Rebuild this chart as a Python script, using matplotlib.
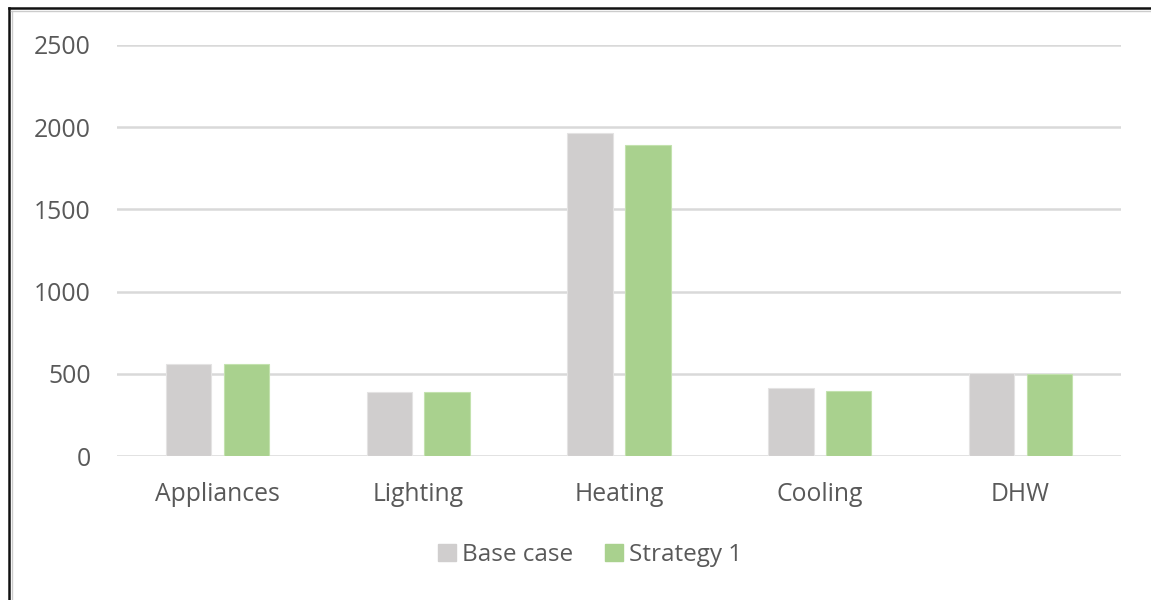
import matplotlib
matplotlib.use("Agg")
import matplotlib.pyplot as plt
import numpy as np
from matplotlib.lines import Line2D
from matplotlib.patches import Patch

categories = ["Appliances", "Lighting", "Heating", "Cooling", "DHW"]
base_case = [562, 387, 1967, 414, 503]
strategy_1 = [562, 387, 1893, 396, 498]
series_names = ["Base case", "Strategy 1"]
yticks = [0, 500, 1000, 1500, 2000, 2500]

c_base = "#D0CECE"
c_strat = "#A9D18E"
txt = "#595959"

plt.rcParams["font.family"] = ["Open Sans", "DejaVu Sans"]
fig = plt.figure(figsize=(11.51, 6.0), dpi=100)
ax = fig.add_axes([117/1151, 0.24, (1121-117)/1151, 0.925-0.24])

x = np.arange(len(categories))
w = 0.226
off = 0.1435
ax.bar(x - off, base_case, width=w, color=c_base, edgecolor="#E4E3E3", linewidth=0.8, zorder=3)
ax.bar(x + off, strategy_1, width=w, color=c_strat, edgecolor="#C3E2AE", linewidth=0.8, zorder=3)

ax.set_xlim(-0.5, len(categories) - 0.5)
ax.set_ylim(0, 2500)
ax.set_yticks(yticks)
ax.set_xticks(x)
ax.set_xticklabels(categories)
for s in ax.spines.values():
    s.set_visible(False)
ax.yaxis.grid(True, color="#D9D9D9", linewidth=1.8, zorder=0)
ax.set_axisbelow(True)
ax.tick_params(axis="both", length=0, labelsize=17.8, colors=txt)
ax.tick_params(axis="y", pad=19)
ax.tick_params(axis="x", pad=19)

handles = [Patch(color=c_base), Patch(color=c_strat)]
fig.legend(handles, series_names, loc="center", bbox_to_anchor=(590/1151, 1 - 555/600),
           ncol=2, frameon=False, fontsize=17.5, labelcolor=txt,
           handlelength=0.75, handleheight=0.75, handletextpad=0.25, columnspacing=1.3)

# outer frame (top and left edges)
fig.add_artist(Line2D([9/1151, 1], [1 - 8/600, 1 - 8/600], color="#111111", linewidth=1.8, transform=fig.transFigure))
fig.add_artist(Line2D([9/1151, 9/1151], [0, 1 - 8/600], color="#111111", linewidth=1.8, transform=fig.transFigure))
fig.add_artist(Line2D([11/1151, 1], [1 - 10.5/600, 1 - 10.5/600], color="#CCCCCC", linewidth=1.0, transform=fig.transFigure))
fig.add_artist(Line2D([11.5/1151, 11.5/1151], [0, 1 - 10.5/600], color="#CCCCCC", linewidth=1.0, transform=fig.transFigure))

fig.savefig("out.png", dpi=100, facecolor="white")
